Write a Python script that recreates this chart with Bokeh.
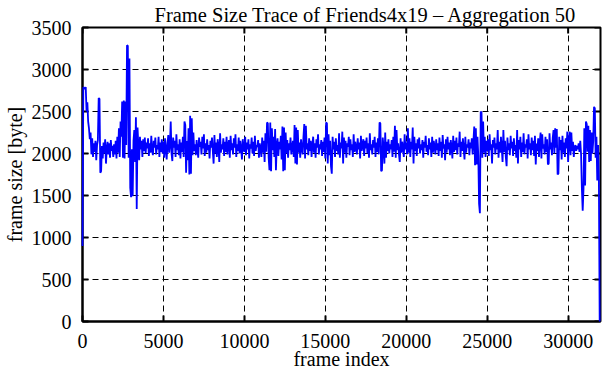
import math
from bokeh.plotting import figure
from bokeh.models import Range1d, FixedTicker, ColumnDataSource
from bokeh.embed import file_html
from bokeh.resources import INLINE

TITLE = "Frame Size Trace of Friends4x19 \u2013 Aggregation 50"
X_LABEL = "frame index"
Y_LABEL = "frame size [byte]"
AGGREGATION = 50
X_TICKS = [0, 5000, 10000, 15000, 20000, 25000, 30000]
Y_TICKS = [0, 500, 1000, 1500, 2000, 2500, 3000, 3500]

# frame size per aggregated block of 50 frames (20 values = 1000 frames per row)
frame_size = [
    900, 2790, 2780, 2770, 2790, 2500, 2610, 2380, 2300, 2170, 2250, 1990, 2180, 1960, 2120, 2020, 2150, 1920, 2100, 2160,
    2660, 2650, 1770, 1790, 2090, 1940, 2130, 2000, 2170, 1880, 2060, 2140, 1990, 2120, 1950, 2160, 2030, 2090, 1960, 2110,
    1990, 2150, 1940, 2200, 2010, 2300, 1960, 2380, 2200, 2620, 1950, 2630, 1940, 2620, 2100, 3290, 3280, 1950, 3130, 1590,
    1480, 2050, 1490, 2150, 2280, 1900, 2430, 1340, 2310, 2100, 1920, 2200, 2050, 2150, 1960, 2170, 2030, 2190, 2000, 2130,
    2060, 2180, 1970, 2120, 2010, 2210, 2040, 1980, 2150, 2070, 2190, 1990, 2100, 2050, 2200, 1960, 2130, 2020, 2170, 2000,
    2140, 1950, 2180, 2060, 1930, 2120, 2220, 2010, 2100, 2380, 2000, 1910, 2190, 2070, 2150, 1960, 2230, 2040, 2110, 1980,
    2170, 1940, 2130, 2020, 2200, 1960, 2380, 2340, 1770, 2150, 1920, 2300, 1750, 2450, 1760, 2420, 1980, 2250, 2030, 2110,
    1980, 2160, 2050, 1950, 2190, 2080, 2140, 1990, 2200, 2060, 2230, 1970, 2120, 2010, 2170, 2040, 2100, 1940, 2150, 2070,
    2190, 2030, 1880, 2220, 2000, 2130, 1960, 2170, 2080, 1900, 2240, 2010, 2110, 2050, 2180, 1970, 2140, 2020, 2200, 1990,
    2100, 2160, 1950, 2210, 2040, 2120, 1990, 2180, 2070, 2230, 1960, 2110, 2030, 2190, 2000, 2150, 2060, 1930, 2170, 2080,
    2020, 2200, 1980, 2130, 2050, 2170, 1940, 2110, 2060, 2190, 2000, 2140, 1970, 2210, 2030, 2100, 2080, 2160, 1950, 2120,
    2060, 1960, 2190, 2010, 2150, 1900, 2240, 2020, 2370, 2360, 1950, 1800, 2370, 1790, 2300, 2040, 2200, 1960, 2290, 1800,
    2100, 2180, 1970, 2140, 2050, 2210, 1930, 2320, 1790, 2310, 1800, 2250, 2000, 2160, 1950, 2120, 2040, 2190, 1990, 2080,
    2150, 1960, 2340, 1880, 2310, 1870, 2280, 2010, 2130, 1950, 2170, 2060, 1990, 2200, 2350, 1940, 2330, 2050, 2120, 1980,
    2180, 2030, 2150, 1960, 2090, 2200, 2010, 2120, 1950, 2170, 2070, 2230, 1990, 2110, 2050, 2160, 1970, 2140, 2020, 2190,
    1940, 2370, 2360, 1880, 2230, 1980, 2150, 1850, 1760, 2200, 2050, 2140, 1960, 2180, 2030, 2100, 1990, 2240, 1950, 2130,
    2060, 2260, 1880, 2190, 2010, 2150, 1950, 2120, 2080, 2200, 1980, 2170, 2040, 2110, 1960, 2230, 2020, 2140, 2070, 1990,
    2180, 2050, 2130, 1940, 2210, 2030, 2100, 2170, 1970, 2150, 2060, 2190, 2000, 2120, 1950, 2240, 2040, 2110, 1990, 2160,
    2070, 2200, 1960, 2130, 2020, 2180, 1990, 2370, 2360, 1790, 1800, 2190, 2060, 1880, 2250, 1950, 2140, 2030, 2170, 2000,
    2110, 2050, 2160, 1960, 2200, 2020, 2330, 1950, 2280, 2040, 2120, 1990, 1900, 2180, 2010, 2140, 2070, 1960, 2230, 2050,
    2130, 1990, 2300, 2010, 2180, 1960, 2140, 2050, 2310, 1880, 2200, 2030, 2120, 1970, 2170, 2060, 2190, 2000, 2110, 2040,
    2160, 1950, 2140, 2070, 2210, 2020, 2100, 1980, 2180, 2050, 2130, 1960, 2200, 2010, 2150, 2080, 1990, 2170, 2040, 2120,
    1970, 2190, 2030, 2140, 1950, 2220, 2060, 2110, 1920, 2170, 2010, 2200, 2050, 2130, 1980, 2160, 2070, 1940, 2210, 2020,
    2150, 2040, 2190, 1990, 2120, 2080, 2260, 1960, 2140, 2030, 2180, 2050, 1930, 2200, 2010, 2110, 2070, 2170, 1980, 2130,
    2060, 2180, 1990, 2150, 2320, 1860, 2300, 1870, 2200, 1980, 1400, 1290, 2500, 2490, 1950, 2380, 2010, 2200, 1960, 2150,
    2030, 2170, 1970, 2230, 2040, 2110, 1880, 2160, 2070, 2190, 1990, 2120, 2050, 2280, 1950, 2140, 2010, 2200, 2060, 1900,
    2280, 2020, 2150, 1960, 1850, 2190, 2040, 2120, 1980, 2210, 2060, 2140, 1970, 2180, 2030, 2100, 1950, 2280, 1880, 2160,
    2050, 2200, 1960, 2130, 2020, 2240, 1990, 2110, 2070, 2170, 1940, 2230, 2050, 2120, 1980, 2190, 2040, 2150, 1970, 2210,
    1870, 2120, 2030, 2180, 1960, 2140, 2250, 1940, 2230, 2060, 2110, 1990, 2200, 2020, 2170, 1870, 1880, 2240, 2050, 2130,
    1980, 2190, 2280, 2000, 2300, 2070, 2290, 1750, 1760, 2200, 2040, 2160, 1930, 2210, 2010, 2130, 1960, 2180, 2060, 2260,
    1900, 2150, 2260, 1980, 2250, 2030, 2140, 1960, 2080, 2100, 2030, 2090, 2050, 2120, 2020, 2150, 1990, 1580, 1320, 1580,
    2300, 1620, 2380, 2350, 2020, 2330, 1900, 2280, 1910, 2250, 2000, 2150, 2555, 2540, 1950, 2200, 1680, 2100, 1690, 0,
]
frame_index = [i * AGGREGATION for i in range(len(frame_size))]

X_END = frame_index[-1] + AGGREGATION
Y_END = Y_TICKS[-1]

SERIF = "Liberation Serif"

p = figure(width=603, height=372, output_backend="svg", toolbar_location=None,
           x_range=Range1d(0, X_END), y_range=Range1d(0, Y_END),
           min_border_left=0, min_border_right=3, min_border_top=0, min_border_bottom=0)

p.title.text = TITLE
p.title.align = "left"
p.title.text_font = SERIF
p.title.text_font_style = "normal"
p.title.text_font_size = "20.5px"
p.title.text_color = "black"
p.title.text_line_height = 1.0
p.title.offset = 72
p.title.standoff = 3

src = ColumnDataSource(dict(x=frame_index, y=frame_size))
p.line("x", "y", source=src, line_color="#0000ff", line_width=1.8, level="overlay")

p.outline_line_color = "black"
p.outline_line_width = 2
p.background_fill_color = "white"
p.border_fill_color = "white"

for ax in (p.xaxis[0], p.yaxis[0]):
    ax.axis_line_width = 2
    ax.axis_line_color = "black"
    ax.major_tick_in = 6
    ax.major_tick_out = 0
    ax.major_tick_line_width = 2
    ax.major_tick_line_color = "black"
    ax.minor_tick_line_color = None
    ax.major_label_text_font = SERIF
    ax.major_label_text_font_size = "20px"
    ax.major_label_text_color = "black"
    ax.major_label_text_line_height = 1.0
    ax.axis_label_text_font = SERIF
    ax.axis_label_text_font_size = "20px"
    ax.axis_label_text_font_style = "normal"
    ax.axis_label_text_color = "black"
    ax.axis_label_text_line_height = 1.0

p.xaxis[0].ticker = FixedTicker(ticks=X_TICKS)
p.yaxis[0].ticker = FixedTicker(ticks=Y_TICKS)
p.xaxis[0].axis_label = X_LABEL
p.yaxis[0].axis_label = Y_LABEL
p.xaxis[0].major_label_standoff = 12
p.yaxis[0].major_label_standoff = 11
p.xaxis[0].axis_label_standoff = -3
p.yaxis[0].axis_label_standoff = 3

# mirrored inward ticks on top and right edges
p.ray(x=X_TICKS, y=[Y_END] * len(X_TICKS), length=6, length_units="screen",
      angle=-math.pi / 2, line_color="black", line_width=2)
p.ray(x=[X_END] * len(Y_TICKS), y=Y_TICKS, length=6, length_units="screen",
      angle=math.pi, line_color="black", line_width=2)

p.xgrid.grid_line_color = "black"
p.ygrid.grid_line_color = "black"
p.xgrid.grid_line_dash = "6 4"
p.ygrid.grid_line_dash = "6 4"
p.xgrid.grid_line_width = 1
p.ygrid.grid_line_width = 1

open("out.html", "w").write(file_html(p, INLINE))
